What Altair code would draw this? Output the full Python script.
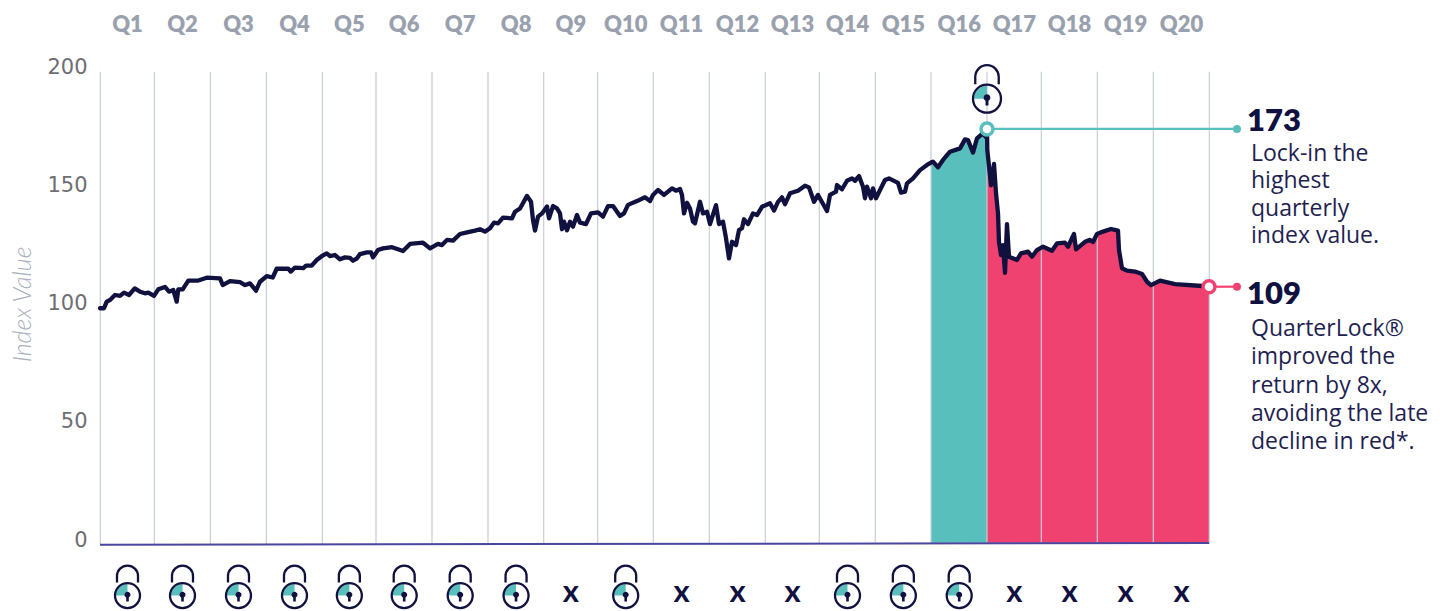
import altair as alt
import pandas as pd

# Trading-session position and index level of the strategy line
sessions = [0,4,6.7,10,15,20,24,29,34.7,40,45,48.3,54,58.3,65,69,73.3,76.7,78.3,82.7,88.3,98.3,106.7,120,122.7,130,140,145,150,156,160,166.7,172.7,176.7,188.3,190.7,195,203.3,206,211.7,216.7,221.7,226.7,230,235,240,245,
 250,253,257,260,267,271,273,278,283,292,298,303,310,323,330,338,342,347,353,360,367,375,380,385,390,394,398,403,412,415,420,427,431,433,435,438,442,447,449,453,457,460,462,464,467,470,473,477,480,486,491,498,503,508,513,520,524,528,537,545,
 550,553,558,564,572,576,580,582,584,587,590,593,595,600,603,607,610,616,619,623,626,629,632,636,639,642,644,648,653,657,662,670,674,678,682,685,690,698,705,709,714,718,727,730,736,737,742,747,752,755,759,763,765,767,771,773,776,780,785,789,798,801,805,807,813,820,827,831,
 833,838,843,850,860,865,868,873,877,883,886,887,
 887.3,891,894,896,898,899,901,903,905,907,909,917,921,928,932,937,943,952,957,965,968,974,976,985,990,993,997,1003,1011,1018,1019,1022,1027,1035,1042,1047,1051,1060,1075,1102,1109]
index_values = [98,98,100.8,101.5,103.6,103.2,104.6,103.6,106.4,105,104.3,104.6,103.2,106,107,105,105.7,100.8,106,106,109.7,109.7,110.9,110.6,107.8,109.5,109,107.8,108.5,105.4,109.2,111.6,111,114.7,114.7,113.5,115.2,115,116,116,118.4,120,121.2,120,120.5,118.7,119.5,
 119.3,118.1,119.1,120.9,121.6,121.6,119.5,122.6,123.3,123.8,122.9,122.2,125.2,125.7,123.3,125.2,124.7,126.9,126.6,129.4,130.1,130.8,131.4,130.4,131.8,134.2,133.9,136.3,136,138.8,140.2,145.5,143,135.3,130.8,136.7,138.1,141,136,141.2,140.2,138.1,131.4,134.6,131,134.6,132.5,137.4,134.2,133.6,138.1,138.5,136.7,141.2,141.2,137,138.1,141.7,143.3,144.9,
 143.3,145.9,148,145.9,148.7,147.7,148.4,145.9,138.1,142.6,140.2,134.6,133.9,143,138.1,138.8,133.6,141.6,133.6,134.6,127.6,119.1,126.1,124.7,131,131.8,135.6,133.6,138.1,137.4,140.9,142.4,139.3,143,144.9,142,146.6,147.7,149.8,149.1,143,145.9,139.1,145.9,147.3,150.1,148.3,151.9,152.9,151.9,153.9,149.4,144.5,149.4,144.5,148.7,144.5,148,152.2,152.9,151,146.9,147.3,150.8,152.9,156.4,158.6,159.6,
 160,157.6,160.7,164.2,165.6,169.4,169.1,163.8,169.8,172,170.3,173.8,
 164.9,150,159,146.6,138.1,126,120.5,124.7,113,133.6,119.8,118.4,121.2,121.9,119.8,122.6,124,122.3,125.4,125.7,124,129.4,122.9,126.1,126.9,126,129.4,130.4,131.5,130.8,122.6,114.9,113.9,113.5,112.5,109.2,107.8,109.7,108.2,107.4,107.1]

quarter_edges = [0.3,54.3,110.3,166.3,222.3,276,332,388,443.7,497.7,553.3,609.3,665.3,719.3,775.3,831,887,941.3,997.3,1053.3,1109.3]
quarters = [f"Q{i}" for i in range(1, 21)]
locked = [1,1,1,1,1,1,1,1,0,1,0,0,0,1,1,1,0,0,0,0]
y_ticks = [0, 50, 100, 150, 200]

peak_session, peak_value = 887, 173.8
end_session, end_value = 1109, 107.1
callout_end = 1137
teal_start = 831

callout_head = [("173", 1147, 176.6), ("109", 1147, 103.4)]
callout_body = [("Lock-in the", 163.2), ("highest", 151.6), ("quarterly", 140.1), ("index value.", 128.6),
                ("QuarterLock®", 89.2), ("improved the", 77.2), ("return by 8x,", 65.3), ("avoiding the late", 53.4), ("decline in red*.", 41.5)]

DARK = "#11113f"; TEAL = "#58bfbd"; PINK = "#f04271"; GRID = "#c8ccd8"; BODY = "#1f1f52"; BASE = "#4a459f"
Y_MIN, Y_MAX = -1.69, 200
FONT = "Lato"

xs = alt.Scale(domain=[0, 1109], nice=False, zero=False)
ys = alt.Scale(domain=[Y_MIN, Y_MAX], nice=False, zero=False)
AX = alt.Axis(
    values=y_ticks, title="Index Value", domain=False, ticks=False, grid=False,
    labelFont="DejaVu Sans", labelFontSize=21, labelFontWeight=400, labelColor="#6e6e72", labelPadding=13,
    labelBaseline="middle",
    titleFont=FONT, titleFontSize=25, titleFontStyle="italic", titleFontWeight=300, titleColor="#aab0bd",
    titleAngle=270, titleX=-78, titleY=237, titleAlign="center", titleBaseline="middle")
X = alt.X("s:Q", scale=xs, axis=None)
Y = alt.Y("v:Q", scale=ys, axis=AX)
Y2 = alt.Y2("v2:Q")

line_df = pd.DataFrame({"s": sessions, "v": index_values})
line_df["v2"] = -1.2
teal_df = line_df[(line_df.s >= teal_start) & (line_df.s <= peak_session)]
pink_df = line_df[line_df.s >= peak_session]

mids = [(a + b) / 2 + 0.2 for a, b in zip(quarter_edges, quarter_edges[1:])]

teal_area = alt.Chart(teal_df).mark_area(color=TEAL, opacity=1).encode(x=X, y=Y, y2=Y2)
pink_area = alt.Chart(pink_df).mark_area(color=PINK, opacity=1).encode(x=X, y=Y, y2=Y2)

grid = alt.Chart(pd.DataFrame({"s": quarter_edges, "v": [198] * 21, "v2": [Y_MIN] * 21})).mark_rule(
    color=GRID, strokeWidth=1.2).encode(x=X, y=Y, y2=Y2)

baseline = alt.Chart(pd.DataFrame({"s": [0, 1109], "v": [-2.0, -1.3]})).mark_line(
    color=BASE, strokeWidth=2).encode(x=X, y=Y)

line = alt.Chart(line_df).mark_line(color=DARK, strokeWidth=4.3, strokeJoin="round", strokeCap="round").encode(
    x=X, y=Y, order="s:Q")

def callout(s, v, color):
    d = pd.DataFrame({"s": [s, callout_end], "v": [v, v]})
    return [
        alt.Chart(d).mark_line(color=color, strokeWidth=2.2).encode(x=X, y=Y),
        alt.Chart(d.iloc[[1]]).mark_point(filled=True, color=color, size=64, opacity=1, shape="circle").encode(x=X, y=Y),
        alt.Chart(d.iloc[[0]]).mark_point(filled=True, fill="white", stroke=color, strokeWidth=3.4, size=144,
                                          opacity=1, shape="circle").encode(x=X, y=Y),
    ]

# lock glyphs
lock_rows = [{"s": m, "v": -23.5, "z": 4} for m, k in zip(mids, locked) if k] + [{"s": peak_session, "v": 186.6, "z": 5}]
lock_df = pd.DataFrame(lock_rows)
LS = alt.Size("z:Q", scale=None, legend=None)
SHACKLE = "M-10.5 -13 L-10.5 -19.5 A10.5 10.5 0 0 1 10.5 -19.5 L10.5 -13"
RING = "M-12.5 0 A12.5 12.5 0 1 1 12.5 0 A12.5 12.5 0 1 1 -12.5 0 Z"
WEDGE = "M0 0 L-11.5 0 A11.5 11.5 0 0 1 0 -11.5 Z"
KEY = "M-1.3 6 L-1.3 1.8 A3 3 0 1 1 1.3 1.8 L1.3 6 Z"
locks = [
    alt.Chart(lock_df).mark_point(shape=WEDGE, filled=True, color=TEAL, opacity=1, strokeWidth=0).encode(x=X, y=Y, size=LS),
    alt.Chart(lock_df).mark_point(shape=RING, filled=False, color=DARK, opacity=1, strokeWidth=2.3).encode(x=X, y=Y, size=LS),
    alt.Chart(lock_df).mark_point(shape=SHACKLE, filled=False, color=DARK, opacity=1, strokeWidth=2.3).encode(x=X, y=Y, size=LS),
    alt.Chart(lock_df).mark_point(shape=KEY, filled=True, color=DARK, opacity=1, strokeWidth=0).encode(x=X, y=Y, size=LS),
]

x_df = pd.DataFrame([{"s": m, "v": -22.3, "t": "x"} for m, k in zip(mids, locked) if not k])
x_marks = alt.Chart(x_df).mark_text(font=FONT, fontSize=31, fontWeight=700, color=DARK, baseline="middle", align="center").encode(
    x=X, y=Y, text="t:N")

q_df = pd.DataFrame({"s": mids, "v": [217.8] * 20, "t": quarters})
q_labels = alt.Chart(q_df).mark_text(font=FONT, fontSize=22, fontWeight=800, color="#9aa1ae", baseline="middle", align="center").encode(
    x=X, y=Y, text="t:N")

head_df = pd.DataFrame(callout_head, columns=["t", "s", "v"])
heads = alt.Chart(head_df).mark_text(font=FONT, fontSize=31, fontWeight=800, color=DARK, baseline="middle", align="left").encode(
    x=X, y=Y, text="t:N")

body_df = pd.DataFrame(callout_body, columns=["t", "v"]); body_df["s"] = 1151
bodies = alt.Chart(body_df).mark_text(font="Open Sans", fontSize=23, fontWeight=400, color=BODY, baseline="middle", align="left").encode(
    x=X, y=Y, text="t:N")

chart = alt.layer(
    teal_area, pink_area, grid, baseline, line,
    *callout(peak_session, peak_value, TEAL), *callout(end_session, end_value, PINK),
    *locks, x_marks, q_labels, heads, bodies,
).properties(
    width=1109, height=477,
    padding={"left": 92, "top": 59, "right": 223, "bottom": 67},
    autosize=alt.AutoSizeParams(type="none"),
).configure_view(stroke=None)

chart.save("out.html", embed_options={"renderer": "svg", "actions": False})
